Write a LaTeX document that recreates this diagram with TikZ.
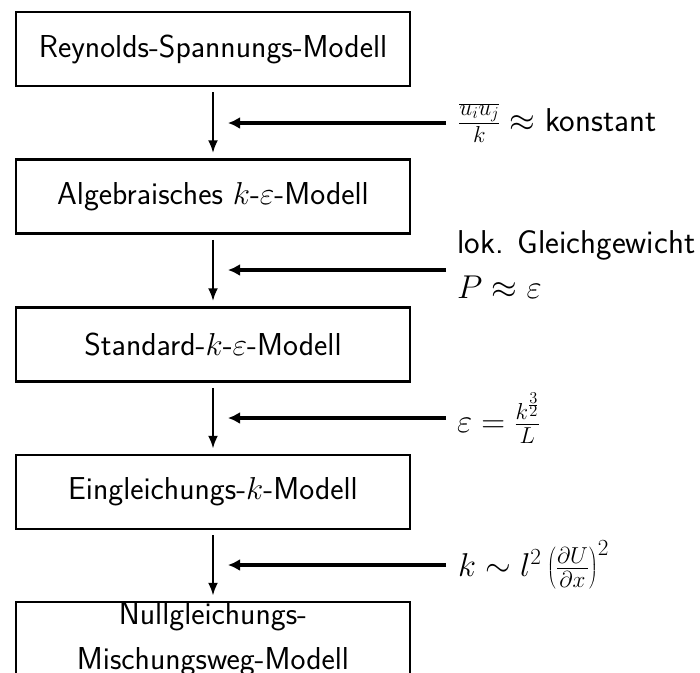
\RequirePackage{fix-cm}
\documentclass[tikz,border=0pt]{standalone}
\usetikzlibrary{arrows.meta}
\begin{document}
\begin{tikzpicture}[x=1pt,y=-1pt,
  model/.style={draw, line width=2.5pt, minimum width=394pt, minimum height=74pt,
    inner sep=0pt, font=\fontsize{31.7}{38}\selectfont\sffamily, align=center},
  lbl/.style={anchor=west, font=\fontsize{33}{38}\selectfont\sffamily, inner sep=0pt, align=left},
  down/.style={-{Latex[length=13pt,width=10pt]}, line width=2.5pt, shorten <=5pt, shorten >=5pt},
  feed/.style={-{Latex[length=12pt,width=12pt]}, line width=4pt}]
\useasboundingbox (0,0) rectangle (700,672);
\node[model] (m1) at (213,49) {Reynolds-Spannungs-Modell};
\node[model] (m2) at (213,196.5) {Algebraisches $k$-$\varepsilon$-Modell};
\node[model] (m3) at (213,344.5) {Standard-$k$-$\varepsilon$-Modell};
\node[model] (m4) at (213,492) {Eingleichungs-$k$-Modell};
\node[model] (m5) at (213,639) {Nullgleichungs-\\[7pt]Mischungsweg-Modell};
\draw[down] (m1) -- (m2);
\draw[down] (m2) -- (m3);
\draw[down] (m3) -- (m4);
\draw[down] (m4) -- (m5);
\node[lbl] (l1) at (458,123) {$\frac{\overline{u_iu_j}}{k}\approx$ konstant};
\node[lbl] (l2) at (457,264.5) {lok. Gleichgewicht\\[7pt]$P\approx\varepsilon$};
\node[lbl] (l3) at (457,418) {$\varepsilon=\frac{k^{\frac{3}{2}}}{L}$};
\node[lbl] (l4) at (458,565) {$k\sim l^2\left(\frac{\partial U}{\partial x}\right)^2$};
\coordinate (a1) at (446,123); \coordinate (e1) at (228,123);
\coordinate (a2) at (446,270); \coordinate (e2) at (228,270);
\coordinate (a3) at (446,418); \coordinate (e3) at (228,418);
\coordinate (a4) at (446,565); \coordinate (e4) at (228,565);
\draw[feed] (a1) -- (e1);
\draw[feed] (a2) -- (e2);
\draw[feed] (a3) -- (e3);
\draw[feed] (a4) -- (e4);
\end{tikzpicture}
\end{document}
